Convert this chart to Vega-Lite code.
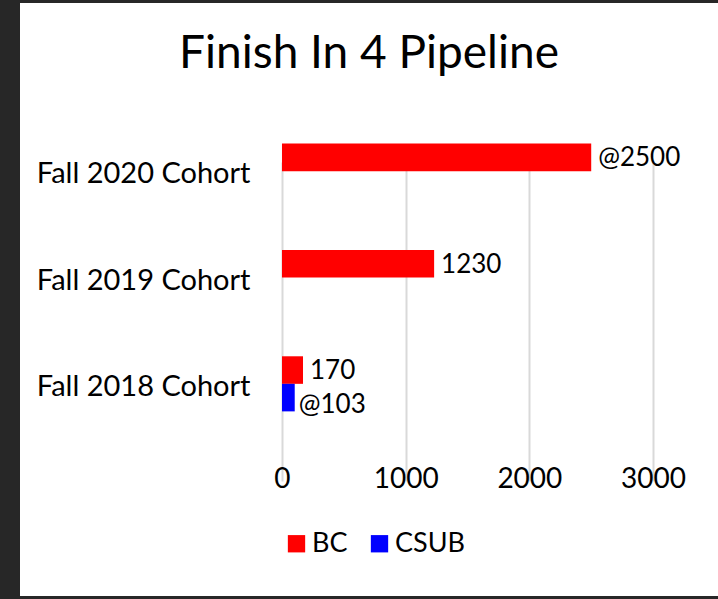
{
  "$schema": "https://vega.github.io/schema/vega-lite/v6.json",
  "width": 698,
  "height": 593,
  "autosize": {"type": "none"},
  "padding": {"left": 20, "top": 3, "right": 0, "bottom": 3},
  "background": "#272727",
  "title": {
    "text": "Finish In 4 Pipeline",
    "font": "Lato",
    "fontSize": 46,
    "fontWeight": "normal",
    "color": "#000000",
    "anchor": "middle",
    "frame": "group",
    "offset": -75
  },
  "data": {
    "values": [
      {"cohort": "Fall 2020 Cohort", "school": "BC", "value": 2500, "label": "@2500"},
      {"cohort": "Fall 2019 Cohort", "school": "BC", "value": 1230, "label": "1230"},
      {"cohort": "Fall 2018 Cohort", "school": "BC", "value": 170, "label": "170"},
      {"cohort": "Fall 2018 Cohort", "school": "CSUB", "value": 103, "label": "@103"}
    ]
  },
  "encoding": {
    "y": {
      "field": "cohort",
      "type": "nominal",
      "sort": ["Fall 2020 Cohort", "Fall 2019 Cohort", "Fall 2018 Cohort"],
      "scale": {"range": [115, 434], "paddingInner": 0, "paddingOuter": 0},
      "axis": {
        "title": null,
        "domain": false,
        "ticks": false,
        "offset": -240,
        "labelPadding": 10,
        "labelFont": "Lato",
        "labelFontSize": 29,
        "labelColor": "#000000",
        "labelLimit": 400,
        "labelOffset": 3
      }
    },
    "yOffset": {
      "field": "school",
      "type": "nominal",
      "scale": {"domain": ["BC", "CSUB"], "paddingInner": 0, "paddingOuter": 0.93}
    },
    "x": {
      "field": "value",
      "type": "quantitative",
      "scale": {"domain": [-2118, 3525], "nice": false, "zero": false},
      "axis": {
        "title": null,
        "values": [0, 1000, 2000, 3000],
        "format": "d",
        "domain": false,
        "ticks": false,
        "offset": -131,
        "labelPadding": 0,
        "labelFont": "Lato",
        "labelFontSize": 28,
        "labelColor": "#000000",
        "grid": true,
        "gridColor": "#d9d9d9",
        "gridWidth": 2
      }
    }
  },
  "layer": [
    {
      "mark": {"type": "bar", "x2": {"expr": "scale('x', 0)"}},
      "encoding": {
        "color": {
          "field": "school",
          "type": "nominal",
          "scale": {"domain": ["BC", "CSUB"], "range": ["#ff0000", "#0000ff"]},
          "legend": {
            "title": null,
            "orient": "none",
            "legendX": 263,
            "legendY": 527,
            "direction": "horizontal",
            "columns": 2,
            "padding": 0,
            "symbolType": "square",
            "symbolSize": 300,
            "symbolStrokeWidth": 0,
            "symbolOpacity": 1,
            "labelFont": "Lato",
            "labelFontSize": 27,
            "labelColor": "#000000",
            "labelOffset": 2,
            "columnPadding": 18
          }
        }
      }
    },
    {
      "transform": [{"filter": "datum.school === 'BC'"}],
      "mark": {
        "type": "text",
        "align": "left",
        "baseline": "middle",
        "dx": 7,
        "dy": 1,
        "font": "Lato",
        "fontSize": 26,
        "color": "#000000"
      },
      "encoding": {"text": {"field": "label"}}
    },
    {
      "transform": [{"filter": "datum.school === 'CSUB'"}],
      "mark": {
        "type": "text",
        "align": "left",
        "baseline": "middle",
        "dx": 4,
        "dy": 7,
        "font": "Lato",
        "fontSize": 26,
        "color": "#000000"
      },
      "encoding": {"text": {"field": "label"}}
    }
  ],
  "config": {
    "view": {"fill": "white", "stroke": null}
  }
}
